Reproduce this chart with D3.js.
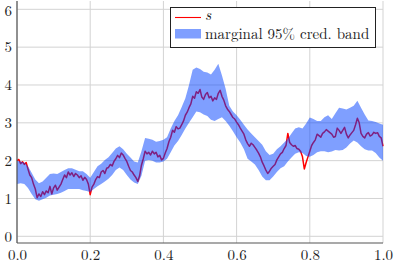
<!DOCTYPE html>
<html><head><meta charset="utf-8">
<script src="https://cdn.jsdelivr.net/npm/d3@7"></script>
<style>body{margin:0;background:#fff}svg{display:block}</style>
</head><body>
<svg id="c" width="398" height="264"></svg>
<script>
const xTicks = [0, 0.2, 0.4, 0.6, 0.8, 1.0];
const xTickLabels = ["0.0", "0.2", "0.4", "0.6", "0.8", "1.0"];
const yTicks = [0, 1, 2, 3, 4, 5, 6];
const seriesNames = ["s", "marginal 95% cred. band"];

// path s sampled every 0.005
const sValues = [
2.00,2.03,1.92,1.97,1.90,1.95,1.78,1.62,1.55,1.38,1.25,1.02,1.12,1.05,1.18,1.10,1.20,1.15,1.32,1.12,
1.28,1.35,1.22,1.30,1.38,1.50,1.62,1.55,1.70,1.62,1.68,1.58,1.66,1.62,1.55,1.60,1.48,1.56,1.50,1.38,
1.10,1.30,1.38,1.50,1.58,1.55,1.70,1.74,1.66,1.80,1.82,1.90,1.86,1.98,2.05,2.14,2.08,2.20,2.15,2.06,
1.98,1.85,1.74,1.70,1.62,1.55,1.45,1.60,1.88,2.05,2.25,2.18,2.22,2.15,2.25,2.18,2.22,2.10,2.14,2.02,
2.06,2.20,2.32,2.50,2.62,2.80,2.75,2.90,2.84,2.86,2.95,3.05,3.20,3.28,3.40,3.50,3.70,3.65,3.82,3.78,
3.88,3.68,3.62,3.75,3.80,3.66,3.70,3.58,3.66,3.62,3.78,3.86,3.70,3.60,3.45,3.36,3.30,3.22,3.14,3.10,
3.02,2.95,2.86,2.78,2.70,2.55,2.45,2.38,2.46,2.42,2.35,2.28,2.20,2.10,1.96,1.86,1.75,1.66,1.72,1.80,
1.85,1.90,2.02,2.10,2.18,2.22,2.32,2.40,2.72,2.48,2.42,2.38,2.40,2.32,2.30,2.24,2.10,1.78,1.95,2.10,
2.25,2.40,2.48,2.55,2.70,2.66,2.62,2.72,2.76,2.82,2.78,2.74,2.70,2.62,2.64,2.86,2.80,2.72,2.80,2.88,
2.70,2.60,2.68,2.74,2.80,2.95,3.12,3.00,2.72,2.64,2.60,2.70,2.74,2.65,2.68,2.75,2.72,2.74,2.64,2.60,
2.38];
const sStep = 0.005;

// band sampled every 0.01
const bandLower = [
1.38,1.40,1.38,1.28,1.12,0.98,0.94,0.98,1.02,1.08,1.10,1.12,1.15,1.20,1.25,1.25,1.25,1.25,1.22,1.20,
1.17,1.25,1.32,1.38,1.45,1.52,1.62,1.75,1.82,1.75,1.62,1.50,1.42,1.38,1.60,2.00,2.02,2.00,1.95,1.95,
1.98,2.05,2.22,2.40,2.52,2.68,2.85,3.00,3.15,3.30,3.28,3.22,3.18,3.08,3.05,3.10,3.15,3.05,2.92,2.78,
2.62,2.48,2.30,2.05,1.98,1.90,1.75,1.58,1.48,1.48,1.58,1.70,1.80,1.85,1.98,2.08,2.18,2.22,2.20,2.12,
2.10,2.15,2.22,2.25,2.25,2.22,2.24,2.28,2.27,2.28,2.35,2.45,2.53,2.48,2.38,2.30,2.27,2.27,2.20,2.08,
2.00];
const bandUpper = [
2.00,1.98,1.95,1.85,1.68,1.50,1.40,1.45,1.55,1.65,1.66,1.65,1.70,1.75,1.80,1.80,1.76,1.72,1.72,1.65,
1.55,1.70,1.85,1.92,2.02,2.09,2.20,2.32,2.38,2.30,2.18,2.08,1.98,1.95,2.25,2.60,2.58,2.55,2.50,2.52,
2.55,2.62,2.85,3.05,3.20,3.42,3.65,4.00,4.40,4.46,4.42,4.35,4.33,4.28,4.40,4.56,4.25,3.90,3.45,3.30,
3.20,3.08,2.95,2.82,2.72,2.62,2.52,2.42,2.25,2.15,2.18,2.30,2.38,2.48,2.58,2.72,2.85,2.88,2.85,2.98,
3.14,3.10,3.05,3.05,3.15,3.20,3.10,3.25,3.40,3.38,3.35,3.40,3.45,3.58,3.40,3.22,3.06,3.05,3.02,2.98,
2.95];
const bandStep = 0.01;

const FONT = '"Latin Modern Roman", "Liberation Serif", serif';
const FS = "15px";
const svg = d3.select("#c");
const x = d3.scaleLinear().domain([0, 1]).range([17, 383]);
const y = d3.scaleLinear().domain([-0.177, 6.22]).range([243, 1]);

// grid
const g = svg.append("g");
g.selectAll(".vx").data(xTicks).join("line")
  .attr("x1", d => x(d)).attr("x2", d => x(d)).attr("y1", 1).attr("y2", 243)
  .attr("stroke", "#d3d3d3").attr("stroke-width", 1);
g.selectAll(".hy").data(yTicks).join("line")
  .attr("x1", 17).attr("x2", 383).attr("y1", d => y(d)).attr("y2", d => y(d))
  .attr("stroke", "#d3d3d3").attr("stroke-width", 1);

const sData = sValues.map((v, i) => [i * sStep, v]);
const bData = bandLower.map((v, i) => [i * bandStep, v, bandUpper[i]]);

svg.append("path").datum(sData)
  .attr("d", d3.line().x(d => x(d[0])).y(d => y(d[1])))
  .attr("fill", "none").attr("stroke", "#ff0000").attr("stroke-width", 1.5)
  .attr("stroke-linejoin", "round");

svg.append("path").datum(bData)
  .attr("d", d3.area().x(d => x(d[0])).y0(d => y(d[1])).y1(d => y(d[2])))
  .attr("fill", "#0040ff").attr("fill-opacity", 0.5);

// axes
const xAxis = d3.axisBottom(x).tickValues(xTicks).tickFormat((d, i) => xTickLabels[i]).tickSize(0).tickPadding(6);
const yAxis = d3.axisLeft(y).tickValues(yTicks).tickFormat(d3.format("d")).tickSize(0).tickPadding(5);
const gx = svg.append("g").attr("transform", "translate(0,243)").call(xAxis);
const gy = svg.append("g").attr("transform", "translate(17,0)").call(yAxis);
[gx, gy].forEach(a => {
  a.select(".domain").attr("stroke", "#555").attr("stroke-width", 1.2);
  a.selectAll("text").style("font-family", FONT).style("font-size", FS).attr("fill", "#222");
});
gx.select(".domain").attr("d", "M17,0H383");
gy.select(".domain").attr("d", "M0,1V243");
gy.selectAll(".tick text").filter(d => d === 6).attr("dy", "0.38em");

// legend
const lg = svg.append("g");
lg.append("rect").attr("x", 170.5).attr("y", 7.5).attr("width", 205).attr("height", 40)
  .attr("fill", "#fff").attr("stroke", "#222").attr("stroke-width", 1);
lg.append("line").attr("x1", 175).attr("x2", 201).attr("y1", 17.5).attr("y2", 17.5)
  .attr("stroke", "#ff0000").attr("stroke-width", 1.1);
lg.append("rect").attr("x", 175).attr("y", 29).attr("width", 26).attr("height", 9.5)
  .attr("fill", "#0040ff").attr("fill-opacity", 0.5);
lg.append("text").attr("x", 205).attr("y", 20).text(seriesNames[0])
  .style("font-family", FONT).style("font-style", "italic").style("font-size", FS).attr("fill", "#222");
lg.append("text").attr("x", 205).attr("y", 38.5).text(seriesNames[1])
  .style("font-family", FONT).style("font-size", FS).attr("fill", "#222");
</script>
</body></html>
